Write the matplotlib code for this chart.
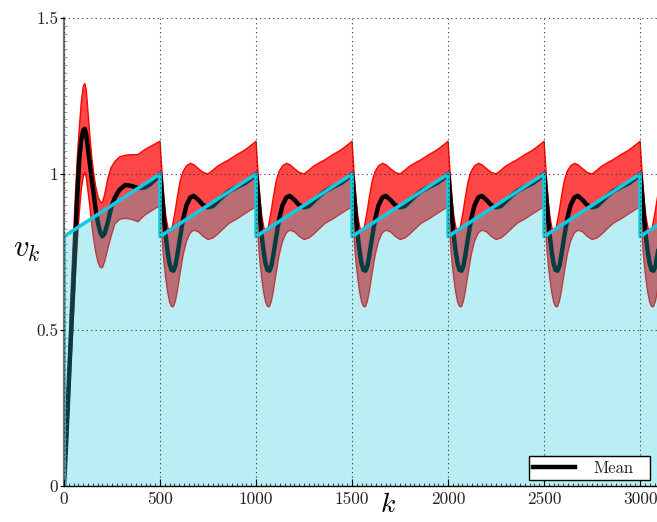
import matplotlib
matplotlib.use('Agg')
import matplotlib.pyplot as plt
from matplotlib.ticker import MultipleLocator

plt.rcParams['font.family'] = ['cmr10', 'DejaVu Serif']
plt.rcParams['mathtext.fontset'] = 'cm'
plt.rcParams['axes.formatter.use_mathtext'] = True

# ---------------- data ----------------
# first interval (transient), k = 0 .. 500
first_k = [0, 10, 20, 30, 40, 50, 60, 70, 80, 90, 100, 108, 116, 125, 135, 145, 155,
           165, 178, 190, 200, 212, 228, 245, 265, 290, 320, 350, 385, 420, 450, 480, 500]
first_mean = [0.0, 0.12, 0.26, 0.40, 0.53, 0.66, 0.80, 0.94, 1.05, 1.11, 1.14, 1.145, 1.125,
              1.08, 1.03, 0.98, 0.935, 0.885, 0.84, 0.81, 0.80, 0.81, 0.845, 0.89, 0.925,
              0.95, 0.965, 0.962, 0.955, 0.957, 0.968, 0.985, 1.0]
first_upper = [0.0, 0.17, 0.35, 0.52, 0.67, 0.81, 0.94, 1.06, 1.15, 1.23, 1.28, 1.29, 1.27,
               1.20, 1.12, 1.05, 1.0, 0.96, 0.925, 0.91, 0.908, 0.935, 0.985, 1.02, 1.04,
               1.055, 1.06, 1.062, 1.062, 1.078, 1.088, 1.098, 1.105]
first_lower = [0.0, 0.07, 0.18, 0.31, 0.44, 0.56, 0.68, 0.79, 0.88, 0.95, 0.99, 1.005, 0.99,
               0.945, 0.895, 0.835, 0.79, 0.75, 0.715, 0.70, 0.70, 0.72, 0.76, 0.80, 0.84,
               0.855, 0.858, 0.855, 0.847, 0.868, 0.88, 0.892, 0.895]

# repeating cycle after each reset (offset from the reset instant)
cycle_starts = [500, 1000, 1500, 2000, 2500, 3000]
cycle_offset = [5, 10, 16, 22, 30, 40, 50, 60, 70, 80, 90, 104, 120, 138, 158, 176, 200,
                225, 250, 275, 300, 330, 360, 400, 440, 470, 500]
cycle_mean = [0.975, 0.94, 0.895, 0.85, 0.80, 0.75, 0.712, 0.692, 0.69, 0.705, 0.74, 0.795,
              0.855, 0.90, 0.925, 0.93, 0.917, 0.90, 0.893, 0.897, 0.912, 0.93, 0.945,
              0.958, 0.97, 0.983, 1.0]
cycle_upper = [1.06, 1.01, 0.955, 0.91, 0.865, 0.83, 0.815, 0.822, 0.85, 0.885, 0.925,
               0.975, 1.008, 1.026, 1.034, 1.03, 1.017, 1.005, 1.0, 1.012, 1.025, 1.036,
               1.046, 1.062, 1.076, 1.09, 1.105]
cycle_lower = [0.85, 0.80, 0.75, 0.71, 0.665, 0.62, 0.59, 0.575, 0.575, 0.593, 0.625, 0.68,
               0.74, 0.785, 0.812, 0.82, 0.815, 0.80, 0.79, 0.795, 0.807, 0.825, 0.842,
               0.856, 0.872, 0.884, 0.895]

# reference (sawtooth)
ref_k = [0, 0, 500, 500, 1000, 1000, 1500, 1500, 2000, 2000, 2500, 2500, 3000, 3000, 3500]
ref_v = [0, 0.8, 1.0, 0.8, 1.0, 0.8, 1.0, 0.8, 1.0, 0.8, 1.0, 0.8, 1.0, 0.8, 1.0]

xtick_vals = [0, 500, 1000, 1500, 2000, 2500, 3000]
xtick_labels = ['0', '500', '1000', '1500', '2000', '2500', '3000']
ytick_vals = [0, 0.5, 1.0, 1.5]
ytick_labels = ['0', '0.5', '1', '1.5']

# ---------------- assemble series ----------------
k = list(first_k)
mean = list(first_mean)
upper = list(first_upper)
lower = list(first_lower)
for c in cycle_starts:
    k += [c + o for o in cycle_offset]
    mean += cycle_mean
    upper += cycle_upper
    lower += cycle_lower

cyan = (0.09, 0.79, 0.88)

W, H = 657, 522
fig = plt.figure(figsize=(W / 100, H / 100), dpi=100)
ax = fig.add_axes([64 / W, 36 / H, (W - 64) / W, 468 / H])

ax.fill_between(k, lower, upper, color='red', alpha=0.72, lw=0, zorder=1)
ax.plot(k, upper, color='red', lw=1.0, zorder=1.2)
ax.plot(k, lower, color='red', lw=1.0, zorder=1.2)
mean_line, = ax.plot(k, mean, color='black', lw=3.2, zorder=1.5, label='Mean')
ax.fill_between(ref_k, 0, ref_v, color=cyan, alpha=0.3, lw=0, zorder=1.8)
ax.plot(ref_k, ref_v, color=cyan, lw=2.6, zorder=1.9)

ax.set_xlim(0, 3088)
ax.set_ylim(0, 1.5)

ax.set_xticks(xtick_vals)
ax.set_xticklabels(xtick_labels)
ax.set_yticks(ytick_vals)
ax.set_yticklabels(ytick_labels)
ax.xaxis.set_minor_locator(MultipleLocator(25))
ax.yaxis.set_minor_locator(MultipleLocator(0.025))

ax.tick_params(axis='x', which='major', direction='in', length=5, width=0.8,
               pad=4, labelsize=12.5, colors='black')
ax.tick_params(axis='x', which='minor', direction='in', length=2, width=0.5)
ax.tick_params(axis='y', which='major', direction='out', length=3, width=0.8,
               pad=1, labelsize=12.5)
ax.tick_params(axis='y', which='minor', direction='in', length=2, width=0.5,
               color='0.45')
for lab in ax.get_xticklabels() + ax.get_yticklabels():
    lab.set_color('#222222')

ax.grid(True, which='major', linestyle=(0, (1, 3)), color='0.2', lw=0.8)
ax.set_axisbelow(False)

ax.spines['top'].set_visible(False)
ax.spines['right'].set_visible(False)
ax.spines['left'].set_color('0.45')
ax.spines['left'].set_linewidth(1.6)
ax.spines['bottom'].set_color('black')
ax.spines['bottom'].set_linewidth(1.0)

ax.set_ylabel('$v_k$', fontsize=22, rotation=0, va='center', ha='center')
ax.yaxis.set_label_coords(-0.062, 0.504)
ax.set_xlabel('$k$', fontsize=20, va='top')
ax.xaxis.set_label_coords(0.546, -0.012)

leg = ax.legend(handles=[mean_line], labels=['Mean'], loc='lower left',
                bbox_to_anchor=(529 / W, 42 / H, 121 / W, 22 / H),
                bbox_transform=fig.transFigure, mode='expand',
                borderaxespad=0, fancybox=False, framealpha=1, edgecolor='black',
                fontsize=12, handlelength=2.5, handletextpad=1.1, borderpad=0.25,
                labelspacing=0.2)
leg.get_frame().set_linewidth(1.0)
for t in leg.get_texts():
    t.set_color('#222222')

fig.savefig('out.png', dpi=100)
